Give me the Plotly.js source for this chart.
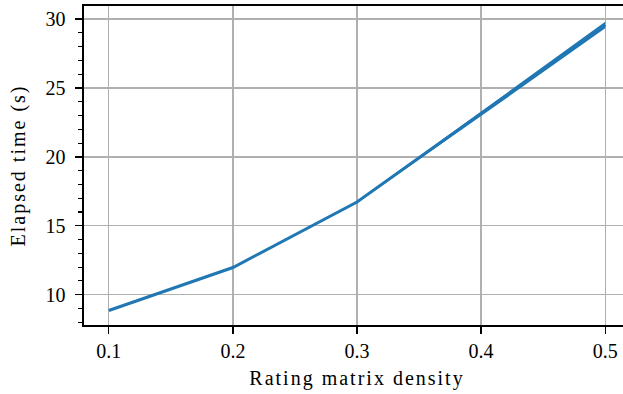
<!DOCTYPE html>
<html>
<head>
<meta charset="utf-8">
<script src="https://cdn.plot.ly/plotly-3.0.1.min.js"></script>
<style>
html, body { margin: 0; padding: 0; overflow: hidden; background: #fff; }
#chart { width: 640px; height: 394px; }
text.xtitle, text.ytitle { letter-spacing: 2px; }
</style>
</head>
<body>
<div id="chart"></div>
<script>
// Data
const density = [0.1, 0.2, 0.3, 0.4, 0.5];
const meanTime = [8.85, 11.97, 16.72, 23.15, 29.58];
const lowerTime = [8.83, 11.94, 16.66, 22.96, 29.33];
const upperTime = [8.87, 12.0, 16.78, 23.32, 29.8];
const xTickVals = [0.1, 0.2, 0.3, 0.4, 0.5];
const xTickText = ['0.1', '0.2', '0.3', '0.4', '0.5'];
const yTickVals = [10, 15, 20, 25, 30];
const yTickText = ['10', '15', '20', '25', '30'];

const blue = '#1f77b4';
const font = { family: '"Liberation Serif", "Times New Roman", serif', size: 20, color: '#000' };

const traces = [
  { x: density, y: lowerTime, mode: 'lines', line: { width: 0, color: blue }, hoverinfo: 'skip', showlegend: false },
  { x: density, y: upperTime, mode: 'lines', fill: 'tonexty', fillcolor: blue, line: { width: 0, color: blue }, hoverinfo: 'skip', showlegend: false },
  { x: density, y: meanTime, mode: 'lines', line: { width: 3, color: blue }, showlegend: false }
];

const layout = {
  width: 640, height: 394,
  margin: { l: 84, r: 10, t: 6, b: 69 },
  paper_bgcolor: '#fff', plot_bgcolor: '#fff',
  font: font,
  showlegend: false,
  xaxis: {
    range: [0.08, 0.52],
    tickvals: xTickVals, ticktext: xTickText,
    ticks: 'outside', ticklen: 7, tickwidth: 1.3, tickcolor: '#000',
    showline: true, linecolor: '#000', linewidth: 1.6, mirror: true,
    showgrid: true, gridcolor: '#b0b0b0', gridwidth: 1.3,
    zeroline: false,
    tickfont: font,
    title: { text: 'Rating matrix density', font: font, standoff: 10 }
  },
  yaxis: {
    range: [7.8, 30.95],
    tickvals: yTickVals, ticktext: yTickText,
    ticks: 'outside', ticklen: 7, tickwidth: 1.3, tickcolor: '#000',
    ticklabelstandoff: 6,
    showline: true, linecolor: '#000', linewidth: 1.6, mirror: true,
    showgrid: true, gridcolor: '#b0b0b0', gridwidth: 1.3,
    zeroline: false,
    tickfont: font,
    minor: { dtick: 1, tick0: 0, ticks: 'outside', ticklen: 4, tickwidth: 1.1, tickcolor: '#000', showgrid: false },
    title: { text: 'Elapsed time (s)', font: font, standoff: 14 }
  }
};

Plotly.newPlot('chart', traces, layout, { displayModeBar: false, staticPlot: true });
</script>
</body>
</html>
